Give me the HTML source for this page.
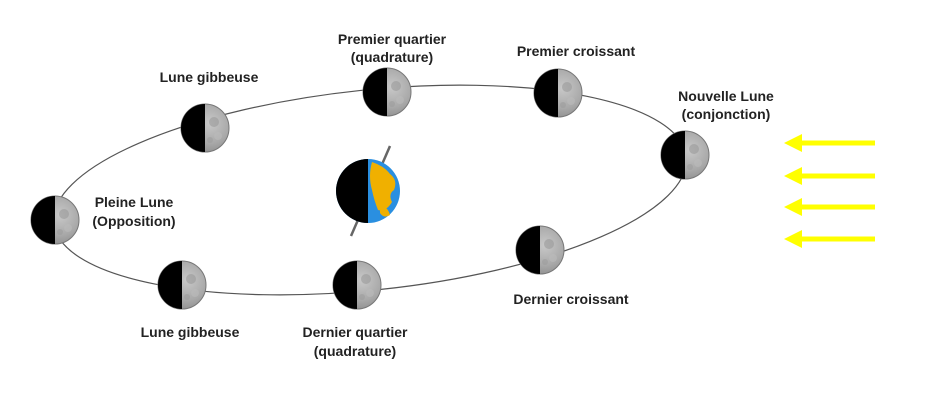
<!DOCTYPE html>
<html><head><meta charset="utf-8"><style>
html,body{margin:0;padding:0;background:#fff;}
svg text{font-family:"Liberation Sans",sans-serif;font-weight:bold;font-size:14px;fill:#222;text-anchor:middle;}
</style></head><body>
<svg width="928" height="415" viewBox="0 0 928 415" xmlns="http://www.w3.org/2000/svg">
<defs>
<radialGradient id="mg" cx="0.6" cy="0.4" r="0.7">
<stop offset="0" stop-color="#c8c8c8"/><stop offset="0.6" stop-color="#a8a8a8"/><stop offset="1" stop-color="#888"/>
</radialGradient>
<g id="moon">
<circle r="24" fill="url(#mg)" stroke="#777" stroke-width="1"/>
<path d="M0,-24 A24,24 0 0 0 0,24 Z" fill="#000"/>
<circle cx="9" cy="-6" r="5" fill="#999" opacity="0.6"/>
<circle cx="13" cy="8" r="4" fill="#bbb" opacity="0.6"/>
<circle cx="5" cy="12" r="3" fill="#999" opacity="0.5"/>
</g>
<marker id="ah" markerWidth="4" markerHeight="4" refX="1" refY="2" orient="auto">
<path d="M0,2 L4,0 L4,4 Z" fill="#ffff00"/>
</marker>
</defs>
<ellipse cx="370" cy="190" rx="318" ry="100" transform="rotate(-6 370 190)" fill="none" stroke="#555" stroke-width="1.2"/>
<use href="#moon" x="55" y="220"/>
<use href="#moon" x="205" y="128"/>
<use href="#moon" x="387" y="92"/>
<use href="#moon" x="558" y="93"/>
<use href="#moon" x="685" y="155"/>
<use href="#moon" x="540" y="250"/>
<use href="#moon" x="357" y="285"/>
<use href="#moon" x="182" y="285"/>
<line x1="390" y1="146" x2="351" y2="236" stroke="#666" stroke-width="2.5"/>
<circle cx="368" cy="191" r="32" fill="#2a8fe0"/>
<path d="M372,162 q12,4 18,12 q8,6 4,16 q-6,4 -2,12 q-6,10 -14,8 q-4,-10 -6,-20 q-4,-14 0,-28 Z" fill="#f0b000"/>
<path d="M380,205 q8,2 10,10 q-6,4 -10,-2 Z" fill="#f0b000"/>
<path d="M368,159 A32,32 0 0 0 368,223 Z" fill="#000"/>
<g stroke="#ffff00" stroke-width="5" fill="#ffff00">
<line x1="875" y1="143" x2="798" y2="143"/><path d="M784,143 L802,134 L802,152 Z" stroke="none"/>
<line x1="875" y1="176" x2="798" y2="176"/><path d="M784,176 L802,167 L802,185 Z" stroke="none"/>
<line x1="875" y1="207" x2="798" y2="207"/><path d="M784,207 L802,198 L802,216 Z" stroke="none"/>
<line x1="875" y1="239" x2="798" y2="239"/><path d="M784,239 L802,230 L802,248 Z" stroke="none"/>
</g>
<text x="392" y="44">Premier quartier</text>
<text x="392" y="62">(quadrature)</text>
<text x="576" y="56">Premier croissant</text>
<text x="209" y="82">Lune gibbeuse</text>
<text x="726" y="101">Nouvelle Lune</text>
<text x="726" y="119">(conjonction)</text>
<text x="134" y="207">Pleine Lune</text>
<text x="134" y="226">(Opposition)</text>
<text x="190" y="337">Lune gibbeuse</text>
<text x="355" y="337">Dernier quartier</text>
<text x="355" y="356">(quadrature)</text>
<text x="571" y="304">Dernier croissant</text>
</svg>
</body></html>
